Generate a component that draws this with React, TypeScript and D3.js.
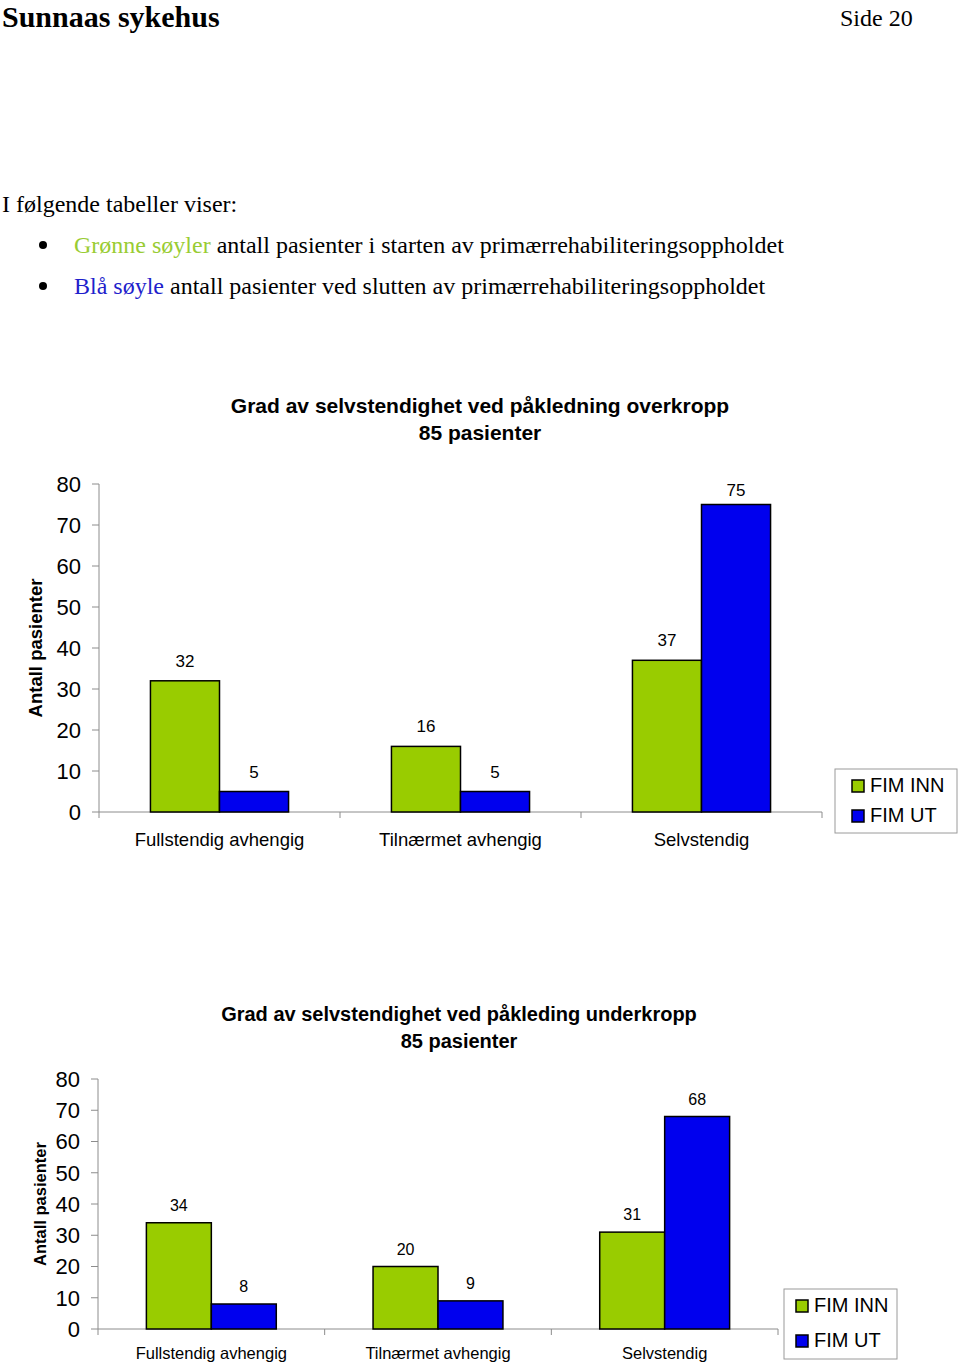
import * as d3 from 'd3';
import React from 'react';

const categories = ['Fullstendig avhengig', 'Tilnærmet avhengig', 'Selvstendig'];
const seriesNames = ['FIM INN', 'FIM UT'];
const seriesColors = ['#99cc00', '#0000ee'];

const overkroppInn = [32, 16, 37];
const overkroppUt = [5, 5, 75];
const underkroppInn = [34, 20, 31];
const underkroppUt = [8, 9, 68];

const yTicks = [0, 10, 20, 30, 40, 50, 60, 70, 80];

const serif = '"Liberation Serif", "Times New Roman", serif';
const sans = '"Liberation Sans", Arial, sans-serif';

interface ChartProps {
  title: string[];
  inn: number[];
  ut: number[];
  left: number;
  right: number;
  top: number;
  bottom: number;
  titleX: number;
  titleY: number;
  titleSize: number;
  tickSize: number;
  catSize: number;
  catY: number;
  valSize: number;
  valGap: number;
  yTitleX: number;
  yTitleSize: number;
  legend: { x: number; y: number; w: number; h: number; sq: number; step: number; pad: number };
}

const BarChart: React.FC<ChartProps> = (p) => {
  const x = d3.scaleBand<string>().domain(categories).range([p.left, p.right]).padding(0);
  const inner = d3.scaleBand<string>().domain(seriesNames).range([0, x.bandwidth()])
    .paddingInner(0).paddingOuter(0.745);
  const y = d3.scaleLinear().domain([0, 80]).range([p.bottom, p.top]);
  const rows = categories.map((c, i) => ({ c, vals: [p.inn[i], p.ut[i]] }));
  const axisColor = '#8c8c8c';

  return (
    <g>
      {p.title.map((t, i) => (
        <text key={i} x={p.titleX} y={p.titleY + i * 27} textAnchor="middle"
          fontFamily={sans} fontWeight="bold" fontSize={p.titleSize}>{t}</text>
      ))}
      <text transform={`translate(${p.yTitleX},${(p.top + p.bottom) / 2}) rotate(-90)`}
        textAnchor="middle" fontFamily={sans} fontWeight="bold" fontSize={p.yTitleSize}>
        Antall pasienter
      </text>
      {/* y axis */}
      <line x1={p.left} x2={p.left} y1={y(80)} y2={y(0) + 6} stroke={axisColor} />
      {yTicks.map((t) => (
        <g key={t}>
          <line x1={p.left - 7} x2={p.left} y1={y(t)} y2={y(t)} stroke={axisColor} />
          <text x={p.left - 18} y={y(t)} dy="0.36em" textAnchor="end"
            fontFamily={sans} fontSize={p.tickSize}>{t}</text>
        </g>
      ))}
      {/* x axis */}
      <line x1={p.left} x2={p.right} y1={y(0)} y2={y(0)} stroke={axisColor} />
      {categories.map((c) => (
        <line key={c} x1={(x(c) ?? 0) + x.bandwidth()} x2={(x(c) ?? 0) + x.bandwidth()}
          y1={y(0)} y2={y(0) + 6} stroke={axisColor} />
      ))}
      {rows.map((r) => (
        <g key={r.c}>
          {r.vals.map((v, j) => {
            const bx = (x(r.c) ?? 0) + (inner(seriesNames[j]) ?? 0);
            const top = y(v);
            const ly = Math.max(top - p.valGap, y(80) + 12);
            return (
              <g key={j}>
                <rect x={bx} y={top} width={inner.bandwidth()} height={y(0) - top}
                  fill={seriesColors[j]} stroke="#000" strokeWidth={1.5} />
                <text x={bx + inner.bandwidth() / 2} y={ly} textAnchor="middle"
                  fontFamily={sans} fontSize={p.valSize}>{v}</text>
              </g>
            );
          })}
          <text x={(x(r.c) ?? 0) + x.bandwidth() / 2} y={p.catY} textAnchor="middle"
            fontFamily={sans} fontSize={p.catSize}>{r.c}</text>
        </g>
      ))}
      {/* legend */}
      <rect x={p.legend.x} y={p.legend.y} width={p.legend.w} height={p.legend.h}
        fill="#fff" stroke="#9a9a9a" />
      {seriesNames.map((s, j) => {
        const sy = p.legend.y + 11 + j * p.legend.step;
        return (
          <g key={s}>
            <rect x={p.legend.x + p.legend.pad} y={sy} width={p.legend.sq} height={p.legend.sq}
              fill={seriesColors[j]} stroke="#000" strokeWidth={1.5} />
            <text x={p.legend.x + p.legend.pad + 18} y={sy + p.legend.sq} fontFamily={sans} fontSize={20}>{s}</text>
          </g>
        );
      })}
    </g>
  );
};

export default function App() {
  return (
    <svg width={960} height={1365} style={{ position: 'absolute', left: 0, top: 0, background: '#fff' }}>
      <rect width={960} height={1365} fill="#fff" />
      <text x={2} y={27} fontFamily={serif} fontWeight="bold" fontSize={30}>Sunnaas sykehus</text>
      <text x={840} y={26} fontFamily={serif} fontSize={24}>Side 20</text>
      <text x={2} y={212} fontFamily={serif} fontSize={24}>I følgende tabeller viser:</text>
      <circle cx={43} cy={245} r={4} fill="#000" />
      <text x={74} y={253} fontFamily={serif} fontSize={24}>
        <tspan fill="#99cc33">Grønne søyler</tspan> antall pasienter i starten av primærrehabiliteringsoppholdet
      </text>
      <circle cx={43} cy={286} r={4} fill="#000" />
      <text x={74} y={294} fontFamily={serif} fontSize={24}>
        <tspan fill="#1f1fcc">Blå søyle</tspan> antall pasienter ved slutten av primærrehabiliteringsoppholdet
      </text>

      <BarChart
        title={['Grad av selvstendighet ved påkledning overkropp', '85 pasienter']}
        inn={overkroppInn} ut={overkroppUt}
        left={99} right={822} top={484} bottom={812}
        titleX={480} titleY={413} titleSize={21}
        tickSize={22} catSize={18.5} catY={846} valSize={17} valGap={14}
        yTitleX={42} yTitleSize={18.5}
        legend={{ x: 835, y: 769, w: 122, h: 64, sq: 12, step: 30, pad: 17 }}
      />
      <BarChart
        title={['Grad av selvstendighet ved påkleding underkropp', '85 pasienter']}
        inn={underkroppInn} ut={underkroppUt}
        left={98} right={778} top={1079} bottom={1329}
        titleX={459} titleY={1021} titleSize={20}
        tickSize={22} catSize={16.5} catY={1359} valSize={16} valGap={12}
        yTitleX={46} yTitleSize={16.5}
        legend={{ x: 784, y: 1289, w: 113, h: 70, sq: 12, step: 35, pad: 12 }}
      />
    </svg>
  );
}
